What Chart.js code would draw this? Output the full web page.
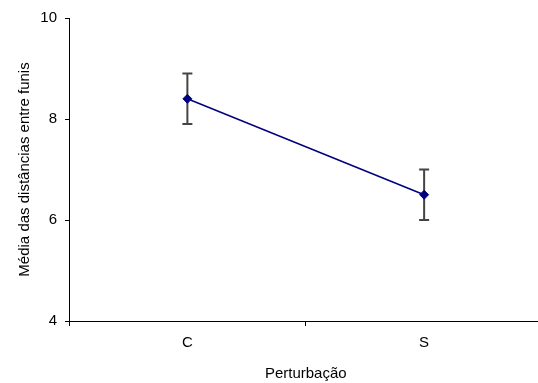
<!DOCTYPE html>
<html>
<head>
<meta charset="utf-8">
<script src="https://cdn.jsdelivr.net/npm/chart.js@4/dist/chart.umd.min.js"></script>
<style>
  html, body { margin: 0; padding: 0; background: #fff; overflow: hidden; }
  canvas { display: block; }
</style>
</head>
<body>
<canvas id="chart" width="548" height="383"></canvas>
<script>
const categories = ['C', 'S']
const means = [8.4, 6.5]
const errLow = [7.9, 6.0]
const errHigh = [8.9, 7.0]
const yMin = 4
const yMax = 10
const yStep = 2

// draws vertical error bars with caps behind the markers
const errorBars = {
    id: 'errorBars',
    beforeDatasetsDraw(chart) {
        const ctx = chart.ctx
        const y = chart.scales.y
        const meta = chart.getDatasetMeta(0)
        ctx.save()
        ctx.strokeStyle = '#444'
        ctx.lineWidth = 2
        meta.data.forEach((pt, i) => {
            const top = y.getPixelForValue(errHigh[i])
            const bot = y.getPixelForValue(errLow[i])
            ctx.beginPath()
            ctx.moveTo(pt.x, top)
            ctx.lineTo(pt.x, bot)
            ctx.moveTo(pt.x - 5, top)
            ctx.lineTo(pt.x + 5, top)
            ctx.moveTo(pt.x - 5, bot)
            ctx.lineTo(pt.x + 5, bot)
            ctx.stroke()
        })
        ctx.restore()
    }
}

Chart.defaults.font.family = '"Liberation Sans", Arial, sans-serif'
Chart.defaults.font.size = 15
Chart.defaults.color = '#000'

const chart = new Chart(document.getElementById('chart').getContext('2d'), {
    type: 'line',
    data: {
        labels: categories,
        datasets: [{
            data: means,
            borderColor: '#000080',
            backgroundColor: '#000080',
            borderWidth: 1.5,
            pointStyle: 'rectRot',
            pointRadius: 4.5,
            pointBorderWidth: 1,
            tension: 0,
            fill: false
        }]
    },
    options: {
        responsive: false,
        animation: false,
        layout: { padding: { top: 18, right: 2, left: 0, bottom: 0 } },
        plugins: {
            legend: { display: false },
            tooltip: { enabled: false }
        },
        scales: {
            x: {
                offset: true,
                grid: {
                    offset: true,
                    drawOnChartArea: false,
                    drawTicks: true,
                    tickLength: 5,
                    color: '#000'
                },
                border: { display: true, color: '#000', width: 1 },
                ticks: { padding: 8 },
                title: {
                    display: true,
                    text: 'Perturbação',
                    padding: { top: 6, bottom: 0 }
                },
                afterFit(scale) { scale.height = 62 }
            },
            y: {
                min: yMin,
                max: yMax,
                ticks: { stepSize: yStep, padding: 8 },
                grid: {
                    drawOnChartArea: false,
                    drawTicks: true,
                    tickLength: 4,
                    color: '#000'
                },
                border: { display: true, color: '#000', width: 1 },
                title: {
                    display: true,
                    text: 'Média das distâncias entre funis',
                    padding: { top: 16, bottom: 0 }
                },
                afterFit(scale) { scale.width = 69 }
            }
        }
    },
    plugins: [errorBars]
})
</script>
</body>
</html>
